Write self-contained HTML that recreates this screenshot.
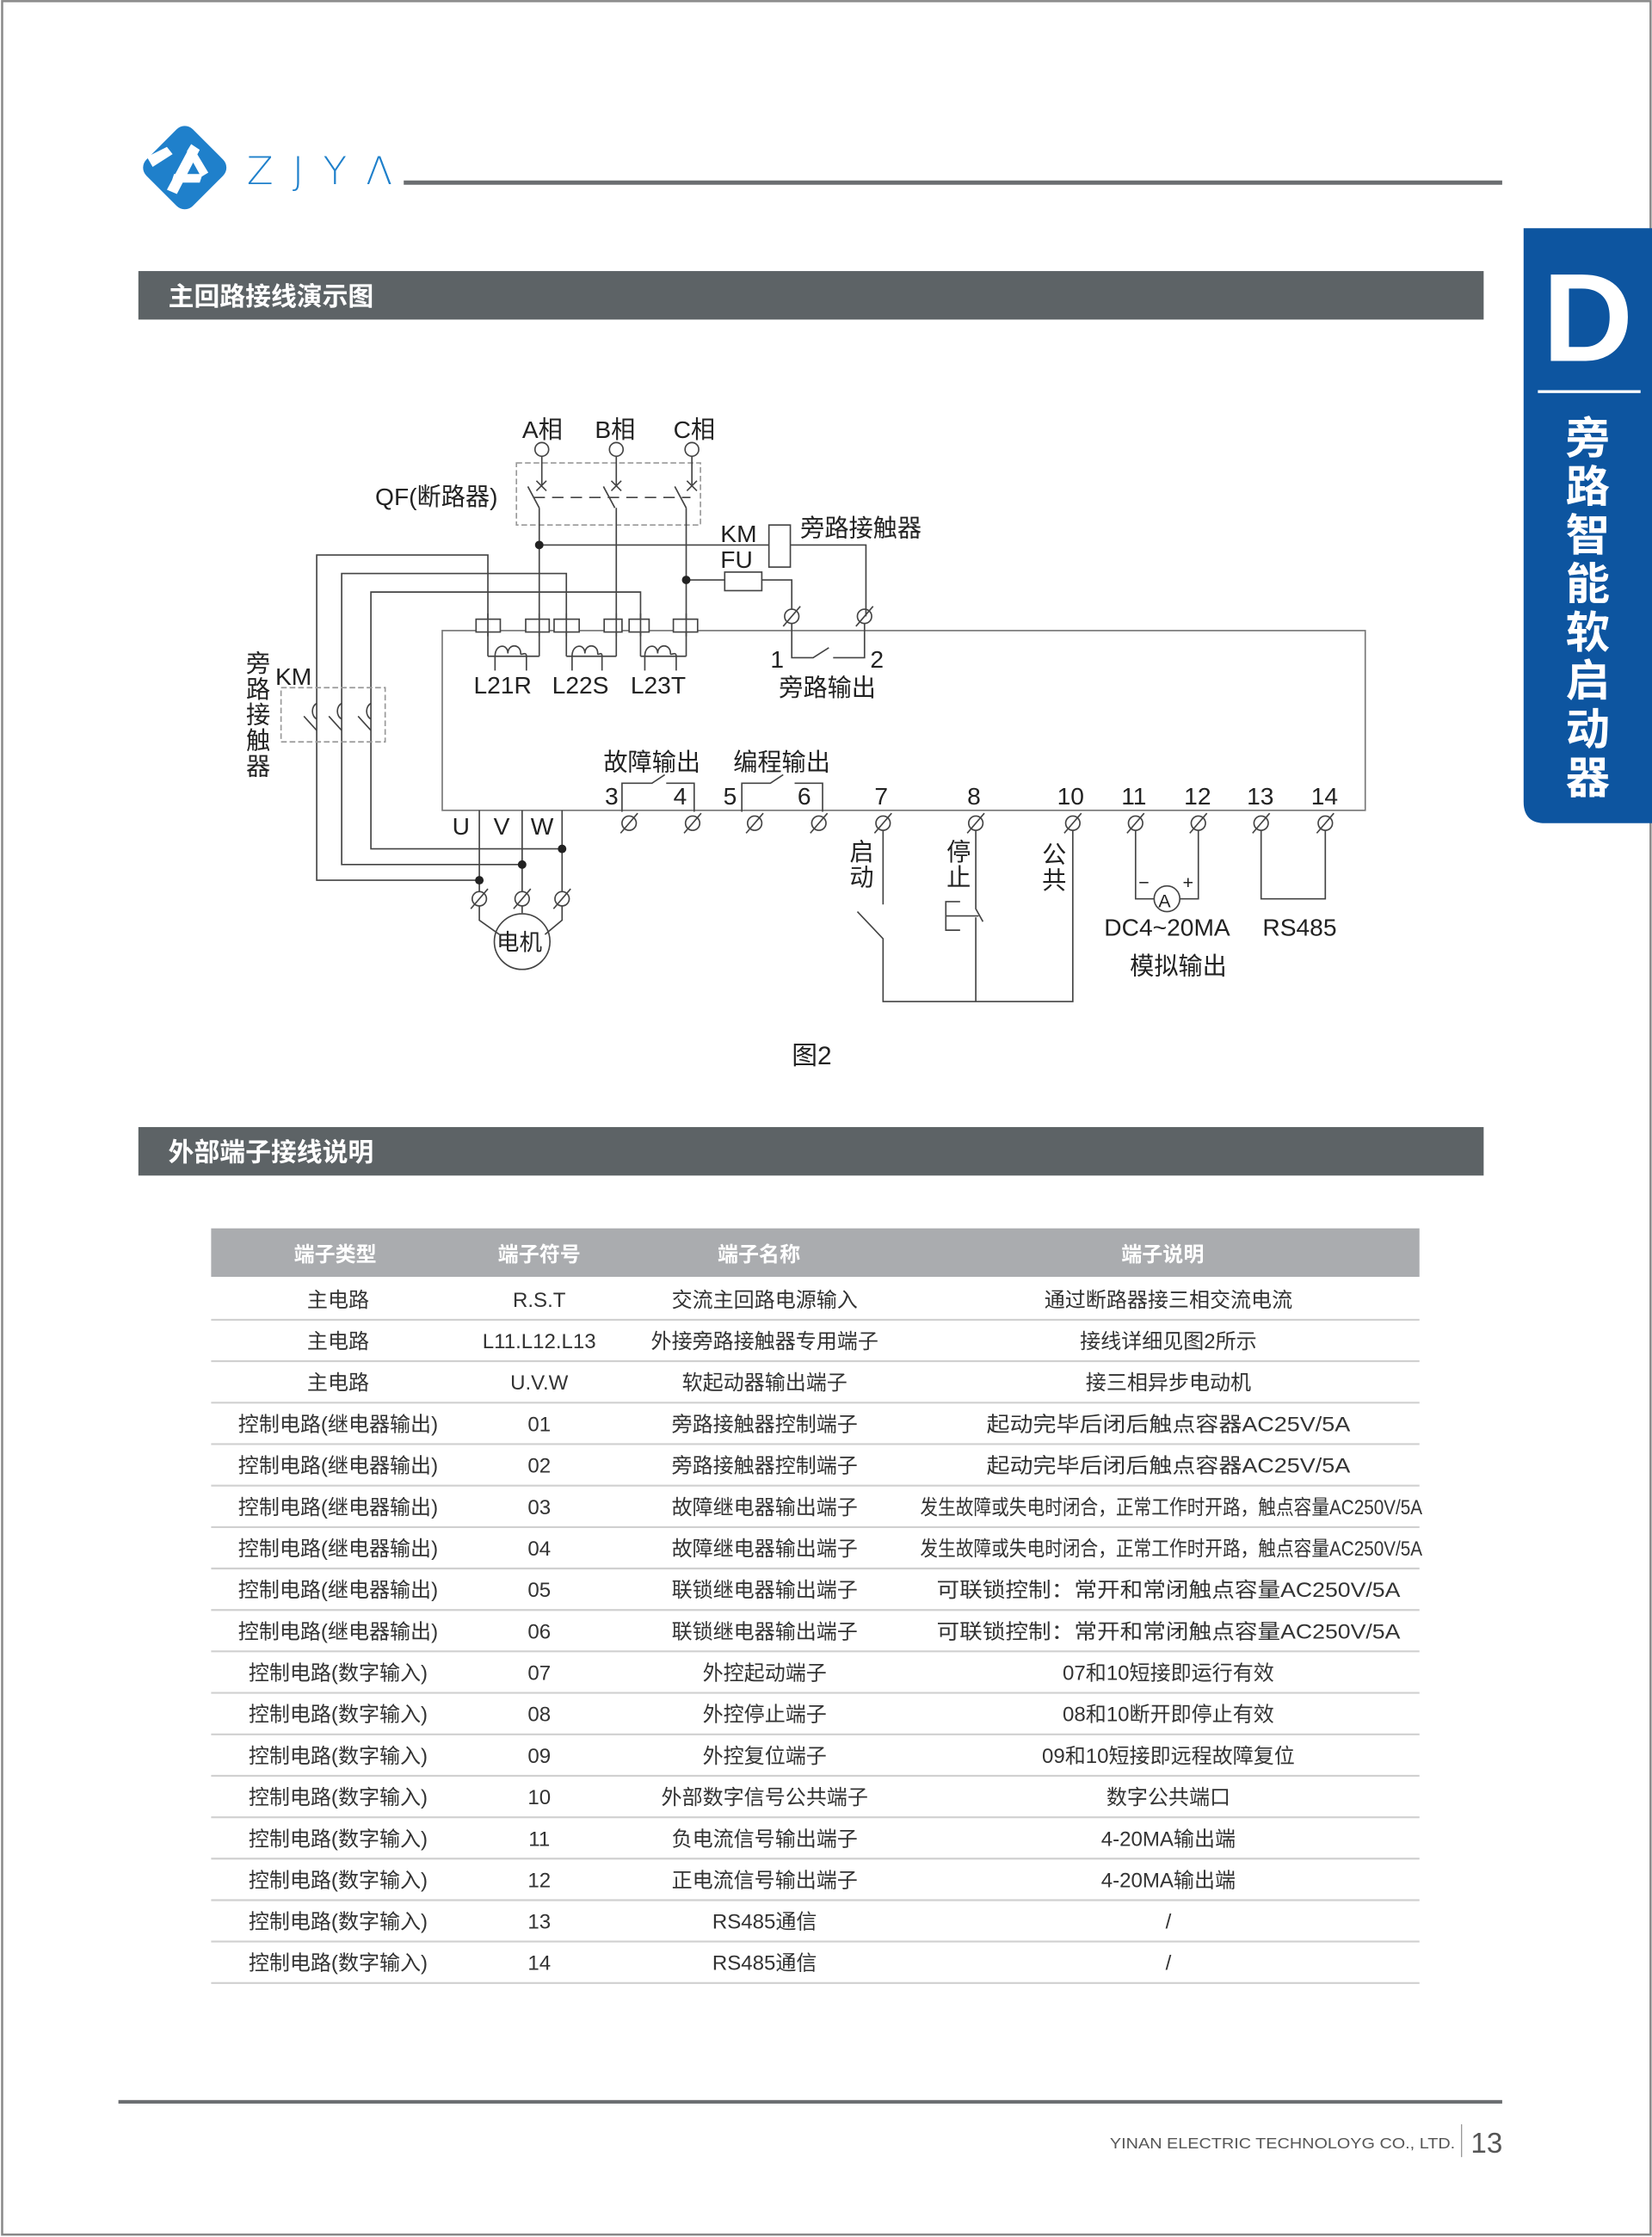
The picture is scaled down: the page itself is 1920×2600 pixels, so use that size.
<!DOCTYPE html>
<html><head><meta charset="utf-8"><style>
html,body{margin:0;padding:0;background:#fff;}
svg{display:block;}
text{font-family:"Liberation Sans","Noto Sans CJK SC",sans-serif;}
</style></head><body>
<svg width="1920" height="2600" viewBox="0 0 1158 1568" preserveAspectRatio="none" xmlns="http://www.w3.org/2000/svg">
<rect x="0" y="0" width="1158" height="1568" fill="#fff"/>
<rect x="1.5" y="0.8" width="1155.5" height="1565.5" fill="none" stroke="#888" stroke-width="1.5"/>

<!-- logo -->
<g transform="translate(129.5,117.5) rotate(45)">
<rect x="-23" y="-23" width="46" height="46" rx="8" fill="#1f80cb"/>
</g>
<path d="M103,110 L117,103 L121,108 L107,117 Z M117,133 L134,101 L140,105 L124,136 Z M122,122 L142,122 L140,128 L120,128 Z M134,101 L146,121 L141,124 L131,106 Z" fill="#fff"/>
<text x="173" y="129" font-size="27" fill="#1f80cb" textLength="102" lengthAdjust="spacing" style="font-family:'DejaVu Sans',sans-serif;font-weight:200">ZJYΛ</text>
<rect x="283" y="126.5" width="770" height="3" fill="#6b6e71"/>

<!-- right tab -->
<path d="M1068,160 H1158 V577 H1083 Q1068,577 1068,562 Z" fill="#0d55a0"/>
<text x="1113" y="253" font-size="88" font-weight="bold" fill="#fff" text-anchor="middle">D</text>
<rect x="1078" y="273.5" width="72" height="2" fill="#fff"/>
<g font-size="31" font-weight="bold" fill="#fff" text-anchor="middle">
<text x="1113" y="318">旁</text><text x="1113" y="352">路</text><text x="1113" y="386">智</text><text x="1113" y="420">能</text>
<text x="1113" y="454">软</text><text x="1113" y="488">启</text><text x="1113" y="522">动</text><text x="1113" y="556">器</text>
</g>

<!-- headers -->
<rect x="97" y="190" width="943" height="34" fill="#5d6366"/>
<text x="118" y="214" font-size="18" font-weight="bold" fill="#fff">主回路接线演示图</text>
<rect x="97" y="790" width="943" height="34" fill="#5d6366"/>
<text x="118" y="814" font-size="18" font-weight="bold" fill="#fff">外部端子接线说明</text>

<!-- diagram -->
<g stroke="#444" stroke-width="1" fill="none">
<rect x="310" y="442" width="647" height="126" stroke="#777"/>
<circle cx="379.8" cy="315" r="4.8"/><circle cx="432" cy="315" r="4.8"/><circle cx="485" cy="315" r="4.8"/>
<rect x="362" y="324.5" width="129" height="43.5" stroke="#999" stroke-dasharray="4,2"/>
<line x1="379.8" y1="320" x2="379.8" y2="341"/><line x1="432" y1="320" x2="432" y2="341"/><line x1="485" y1="320" x2="485" y2="341"/>
<path d="M376,337 l7,7 M383,337 l-7,7 M428.5,337 l7,7 M435.5,337 l-7,7 M481.5,337 l7,7 M488.5,337 l-7,7"/>
<path d="M370,341 L378,356 M423,341 L431,356 M473,341 L481,356"/>
<line x1="374" y1="348.7" x2="484" y2="348.7" stroke-dasharray="8,5"/>
<line x1="378" y1="356" x2="378" y2="460"/>
<line x1="432" y1="356" x2="432" y2="460"/>
<line x1="481" y1="356" x2="481" y2="460"/>
<polyline points="378,382 607,382 607,432"/>
<rect x="539" y="368" width="15" height="29.5" fill="#fff"/>
<polyline points="481,406.5 508,406.5"/>
<rect x="508" y="401" width="26" height="13"/>
<polyline points="534,406.5 555,406.5 555,427"/>
<circle cx="555" cy="432" r="5"/><line x1="549" y1="439" x2="561" y2="425"/>
<circle cx="606" cy="432" r="5"/><line x1="600" y1="439" x2="612" y2="425"/>
<polyline points="555,437 555,461 570,461 581,454"/>
<polyline points="584,461 606,461 606,437"/>
<polyline points="342,460 342,389 222,389 222,617 336,617"/>
<polyline points="397,460 397,402 239.5,402 239.5,606 366,606"/>
<polyline points="449,460 449,415 260,415 260,595 394,595"/>
<line x1="342" y1="460" x2="378" y2="460"/>
<line x1="397" y1="460" x2="432" y2="460"/>
<line x1="449" y1="460" x2="481" y2="460"/>
<g fill="#fff">
<rect x="333.7" y="434" width="17" height="9"/><rect x="368.5" y="434" width="16.5" height="9"/>
<rect x="388.4" y="434" width="17.6" height="9"/><rect x="423.5" y="434" width="12.5" height="9"/>
<rect x="441" y="434" width="14" height="9"/><rect x="472" y="434" width="17" height="9"/>
</g>
<line x1="342" y1="430" x2="342" y2="446"/><line x1="378" y1="430" x2="378" y2="446"/>
<line x1="397" y1="430" x2="397" y2="446"/><line x1="432" y1="430" x2="432" y2="446"/>
<line x1="449" y1="430" x2="449" y2="446"/><line x1="481" y1="430" x2="481" y2="446"/>
<path d="M347,470 V460 C347,451 356,451 356,458 C356,451 365,451 365,458 C365,460 369,456 369,460 V470"/>
<path d="M401,470 V460 C401,451 410,451 410,458 C410,451 419,451 419,458 C419,460 422,456 422,460 V470"/>
<path d="M452,470 V460 C452,451 461,451 461,458 C461,451 470,451 470,458 C470,460 474,456 474,460 V470"/>
<rect x="197" y="482" width="73" height="38" stroke="#999" stroke-dasharray="4,2"/>
<path d="M222,493 a5,6 0 0 0 0,11 M239.5,493 a5,6 0 0 0 0,11 M260,493 a5,6 0 0 0 0,11"/>
<path d="M213,502 L222,512 M230.5,502 L239.5,512 M251,502 L260,512"/>
<line x1="336" y1="568" x2="336" y2="625"/><line x1="366" y1="568" x2="366" y2="625"/><line x1="394" y1="568" x2="394" y2="625"/>
<circle cx="336" cy="630" r="5"/><line x1="330" y1="637" x2="342" y2="623"/>
<circle cx="366" cy="630" r="5"/><line x1="360" y1="637" x2="372" y2="623"/>
<circle cx="394" cy="630" r="5"/><line x1="388" y1="637" x2="400" y2="623"/>
<polyline points="336,635 336,645 350,655"/><polyline points="366,635 366,640"/><polyline points="394,635 394,645 382,655"/>
<circle cx="366" cy="660" r="19.5"/>
<polyline points="436,569 436,549 457,549 466,543"/>
<polyline points="467,549 486.6,549 486.6,569"/>
<polyline points="520,569 520,549 540,549 549,543"/>
<polyline points="557,549 576.6,549 576.6,569"/>
<g>
<circle cx="441" cy="577" r="5"/><line x1="435" y1="584" x2="447" y2="570"/>
<circle cx="485.5" cy="577" r="5"/><line x1="479.5" y1="584" x2="491.5" y2="570"/>
<circle cx="529" cy="577" r="5"/><line x1="523" y1="584" x2="535" y2="570"/>
<circle cx="574" cy="577" r="5"/><line x1="568" y1="584" x2="580" y2="570"/>
<circle cx="619" cy="577" r="5"/><line x1="613" y1="584" x2="625" y2="570"/>
<circle cx="684" cy="577" r="5"/><line x1="678" y1="584" x2="690" y2="570"/>
<circle cx="752" cy="577" r="5"/><line x1="746" y1="584" x2="758" y2="570"/>
<circle cx="796" cy="577" r="5"/><line x1="790" y1="584" x2="802" y2="570"/>
<circle cx="840" cy="577" r="5"/><line x1="834" y1="584" x2="846" y2="570"/>
<circle cx="884" cy="577" r="5"/><line x1="878" y1="584" x2="890" y2="570"/>
<circle cx="929" cy="577" r="5"/><line x1="923" y1="584" x2="935" y2="570"/>
</g>
<polyline points="619,582 619,634"/>
<polyline points="601,639 619,658 619,702 752,702 752,582"/>
<polyline points="684,582 684,637 689,646"/>
<polyline points="684,643 684,702"/>
<polyline points="673,632 663,632 663,652 673,652"/>
<line x1="663" y1="642" x2="686" y2="642"/>
<polyline points="796,582 796,630 809,630"/>
<polyline points="827,630 840,630 840,582"/>
<circle cx="818" cy="630" r="9"/>
<polyline points="884,582 884,630 929,630 929,582"/>
</g>
<g fill="#222">
<circle cx="378" cy="382" r="3"/><circle cx="481" cy="406.5" r="3"/>
<circle cx="336" cy="617" r="3"/><circle cx="366" cy="606" r="3"/><circle cx="394" cy="595" r="3"/>
</g>
<g font-size="17" fill="#222">
<text x="366" y="307">A相</text><text x="417" y="307">B相</text><text x="472" y="307">C相</text>
<text x="263" y="354">QF(断路器)</text>
<text x="505" y="380">KM</text><text x="505" y="398">FU</text>
<text x="561" y="376">旁路接触器</text>
<text x="540" y="468">1</text><text x="610" y="468">2</text>
<text x="546" y="488">旁路输出</text>
<text x="332" y="486">L21R</text><text x="387" y="486">L22S</text><text x="442" y="486">L23T</text>
<text x="193" y="480">KM</text>
<text x="423" y="540">故障输出</text><text x="514" y="540">编程输出</text>
<text x="424" y="564">3</text><text x="472" y="564">4</text><text x="507" y="564">5</text><text x="559" y="564">6</text>
<text x="613" y="564">7</text><text x="678" y="564">8</text><text x="741" y="564">10</text>
<text x="786" y="564">11</text><text x="830" y="564">12</text><text x="874" y="564">13</text><text x="919" y="564">14</text>
<text x="317" y="585">U</text><text x="346" y="585">V</text><text x="372" y="585">W</text>
<text x="348" y="666" font-size="16">电机</text>
<text x="774" y="656">DC4~20MA</text><text x="885" y="656">RS485</text>
<text x="792" y="683">模拟输出</text>
<text x="812" y="636" font-size="13">A</text>
<text x="798" y="623" font-size="13">−</text><text x="829" y="623" font-size="13">+</text>
<text x="555" y="746" font-size="18">图2</text>
</g>
<g font-size="17" fill="#222" text-anchor="middle">
<text x="181" y="471">旁</text><text x="181" y="489">路</text><text x="181" y="507">接</text><text x="181" y="525">触</text><text x="181" y="543">器</text>
<text x="604" y="603">启</text><text x="604" y="621">动</text>
<text x="672" y="603">停</text><text x="672" y="621">止</text>
<text x="739" y="605">公</text><text x="739" y="623">共</text>
</g>

<!-- table -->
<rect x="148" y="861" width="847" height="34" fill="#aaacaf"/>
<g font-size="14.5" fill="#fff" text-anchor="middle" font-weight="bold">
<text x="235" y="884">端子类型</text><text x="378" y="884">端子符号</text><text x="532" y="884">端子名称</text><text x="815" y="884">端子说明</text>
</g>
<g stroke="#d0d0d0" stroke-width="1.3">
<line x1="148" x2="995" y1="925.1" y2="925.1"/><line x1="148" x2="995" y1="954.1" y2="954.1"/>
<line x1="148" x2="995" y1="983.2" y2="983.2"/><line x1="148" x2="995" y1="1012.2" y2="1012.2"/>
<line x1="148" x2="995" y1="1041.3" y2="1041.3"/><line x1="148" x2="995" y1="1070.4" y2="1070.4"/>
<line x1="148" x2="995" y1="1099.4" y2="1099.4"/><line x1="148" x2="995" y1="1128.5" y2="1128.5"/>
<line x1="148" x2="995" y1="1157.5" y2="1157.5"/><line x1="148" x2="995" y1="1186.6" y2="1186.6"/>
<line x1="148" x2="995" y1="1215.7" y2="1215.7"/><line x1="148" x2="995" y1="1244.7" y2="1244.7"/>
<line x1="148" x2="995" y1="1273.8" y2="1273.8"/><line x1="148" x2="995" y1="1302.8" y2="1302.8"/>
<line x1="148" x2="995" y1="1331.9" y2="1331.9"/><line x1="148" x2="995" y1="1360.9" y2="1360.9"/>
<line x1="148" x2="995" y1="1390" y2="1390"/>
</g>
<g font-size="14.5" fill="#333" text-anchor="middle">
<text x="237" y="916">主电路</text><text x="378" y="916">R.S.T</text><text x="536" y="916">交流主回路电源输入</text><text x="819" y="916">通过断路器接三相交流电流</text>
<text x="237" y="945.1">主电路</text><text x="378" y="945.1">L11.L12.L13</text><text x="536" y="945.1">外接旁路接触器专用端子</text><text x="819" y="945.1">接线详细见图2所示</text>
<text x="237" y="974.1">主电路</text><text x="378" y="974.1">U.V.W</text><text x="536" y="974.1">软起动器输出端子</text><text x="819" y="974.1">接三相异步电动机</text>
<text x="237" y="1003.2">控制电路(继电器输出)</text><text x="378" y="1003.2">01</text><text x="536" y="1003.2">旁路接触器控制端子</text><text x="819" y="1003.2" textLength="255" lengthAdjust="spacingAndGlyphs">起动完毕后闭后触点容器AC25V/5A</text>
<text x="237" y="1032.2">控制电路(继电器输出)</text><text x="378" y="1032.2">02</text><text x="536" y="1032.2">旁路接触器控制端子</text><text x="819" y="1032.2" textLength="255" lengthAdjust="spacingAndGlyphs">起动完毕后闭后触点容器AC25V/5A</text>
<text x="237" y="1061.3">控制电路(继电器输出)</text><text x="378" y="1061.3">03</text><text x="536" y="1061.3">故障继电器输出端子</text><text x="821" y="1061.3" textLength="352" lengthAdjust="spacingAndGlyphs">发生故障或失电时闭合，正常工作时开路，触点容量AC250V/5A</text>
<text x="237" y="1090.4">控制电路(继电器输出)</text><text x="378" y="1090.4">04</text><text x="536" y="1090.4">故障继电器输出端子</text><text x="821" y="1090.4" textLength="352" lengthAdjust="spacingAndGlyphs">发生故障或失电时闭合，正常工作时开路，触点容量AC250V/5A</text>
<text x="237" y="1119.4">控制电路(继电器输出)</text><text x="378" y="1119.4">05</text><text x="536" y="1119.4">联锁继电器输出端子</text><text x="819" y="1119.4" textLength="325" lengthAdjust="spacingAndGlyphs">可联锁控制：常开和常闭触点容量AC250V/5A</text>
<text x="237" y="1148.5">控制电路(继电器输出)</text><text x="378" y="1148.5">06</text><text x="536" y="1148.5">联锁继电器输出端子</text><text x="819" y="1148.5" textLength="325" lengthAdjust="spacingAndGlyphs">可联锁控制：常开和常闭触点容量AC250V/5A</text>
<text x="237" y="1177.5">控制电路(数字输入)</text><text x="378" y="1177.5">07</text><text x="536" y="1177.5">外控起动端子</text><text x="819" y="1177.5">07和10短接即运行有效</text>
<text x="237" y="1206.6">控制电路(数字输入)</text><text x="378" y="1206.6">08</text><text x="536" y="1206.6">外控停止端子</text><text x="819" y="1206.6">08和10断开即停止有效</text>
<text x="237" y="1235.7">控制电路(数字输入)</text><text x="378" y="1235.7">09</text><text x="536" y="1235.7">外控复位端子</text><text x="819" y="1235.7">09和10短接即远程故障复位</text>
<text x="237" y="1264.7">控制电路(数字输入)</text><text x="378" y="1264.7">10</text><text x="536" y="1264.7">外部数字信号公共端子</text><text x="819" y="1264.7">数字公共端口</text>
<text x="237" y="1293.8">控制电路(数字输入)</text><text x="378" y="1293.8">11</text><text x="536" y="1293.8">负电流信号输出端子</text><text x="819" y="1293.8">4-20MA输出端</text>
<text x="237" y="1322.8">控制电路(数字输入)</text><text x="378" y="1322.8">12</text><text x="536" y="1322.8">正电流信号输出端子</text><text x="819" y="1322.8">4-20MA输出端</text>
<text x="237" y="1351.9">控制电路(数字输入)</text><text x="378" y="1351.9">13</text><text x="536" y="1351.9">RS485通信</text><text x="819" y="1351.9">/</text>
<text x="237" y="1380.9">控制电路(数字输入)</text><text x="378" y="1380.9">14</text><text x="536" y="1380.9">RS485通信</text><text x="819" y="1380.9">/</text>
</g>

<!-- footer -->
<rect x="83" y="1472" width="970" height="2.5" fill="#6b6e71"/>
<text x="778" y="1506" font-size="10.5" fill="#555" textLength="242" lengthAdjust="spacingAndGlyphs">YINAN ELECTRIC TECHNOLOYG CO., LTD.</text>
<line x1="1024.5" y1="1489" x2="1024.5" y2="1512" stroke="#999" stroke-width="0.8"/>
<text x="1031" y="1509" font-size="20" fill="#555">13</text>
</svg>
</body></html>
